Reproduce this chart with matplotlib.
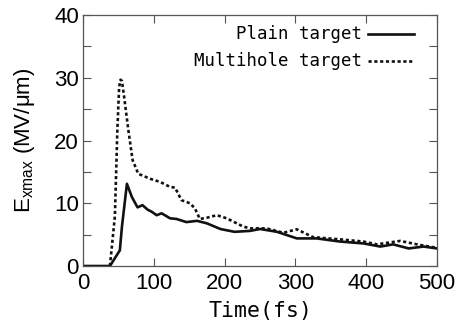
import matplotlib
matplotlib.use("Agg")
import matplotlib.pyplot as plt
from matplotlib.ticker import MultipleLocator

plt.rcParams['mathtext.fontset'] = 'custom'
plt.rcParams['mathtext.rm'] = 'Liberation Sans'
plt.rcParams['mathtext.it'] = 'Liberation Sans'

# Plain target (solid)
plain_t = [0, 38, 52, 55, 62, 69, 77, 84, 91, 97, 104, 111, 123, 132, 146, 161,
           175, 194, 214, 236, 250, 274, 302, 330, 363, 396, 420, 438, 460, 481, 500]
plain_v = [0, 0, 2.5, 6.3, 13.1, 11.0, 9.35, 9.7, 9.0, 8.65, 8.1, 8.4, 7.6, 7.5, 7.0, 7.2,
           6.8, 5.9, 5.45, 5.6, 5.9, 5.45, 4.4, 4.4, 3.9, 3.6, 3.1, 3.45, 2.8, 3.1, 2.8]

# Multihole target (dotted)
multi_t = [38, 45, 48.5, 51, 53, 55, 58, 64, 70, 78, 95, 109, 123, 130, 139, 151, 158,
           165, 175, 189, 203, 226, 236, 259, 283, 302, 325, 363, 396, 415, 448, 476, 500]
multi_v = [0, 7.9, 21.7, 28.5, 29.7, 29.5, 27.0, 21.7, 16.9, 14.7, 13.9, 13.4, 12.6, 12.5, 10.5, 10.0, 9.2,
           7.5, 7.7, 8.1, 7.6, 6.3, 6.0, 6.0, 5.3, 5.85, 4.6, 4.25, 3.9, 3.45, 4.0, 3.35, 2.9]

x_ticks = [0, 100, 200, 300, 400, 500]
y_ticks = [0, 10, 20, 30, 40]

fig = plt.figure(figsize=(4.68, 3.28), dpi=100)
ax = fig.add_axes([0.1774, 0.189, 0.7564, 0.765])

ax.plot(plain_t, plain_v, color='#111111', lw=1.9, ls='-')
ax.plot(multi_t, multi_v, color='#111111', lw=1.9, ls=(0, (1.2, 1.0)))

ax.set_xlim(0, 500)
ax.set_ylim(0, 40)
ax.set_xticks(x_ticks)
ax.set_yticks(y_ticks)
ax.yaxis.set_minor_locator(MultipleLocator(5))
ax.tick_params(which='both', direction='in', top=True, right=True,
               length=6, width=0.8, color='#555555')
ax.tick_params(axis='x', which='major', labelsize=16, pad=5)
ax.tick_params(axis='y', which='major', labelsize=16, pad=3)
for lab in ax.get_xticklabels() + ax.get_yticklabels():
    lab.set_fontfamily('Liberation Sans')

for s in ax.spines.values():
    s.set_color('#555555')
    s.set_linewidth(0.9)

ax.set_xlabel('Time(fs)', fontfamily='DejaVu Sans Mono', fontsize=15.5, labelpad=5)
ax.set_ylabel(r'E$_{\mathrm{xmax}}$ (MV/μm)', fontfamily='Liberation Sans', fontsize=16, labelpad=12)

# legend (text right-aligned, line sample to its right)
leg_font = dict(fontfamily='DejaVu Sans Mono', fontsize=12.5, ha='right', va='center',
                transform=ax.transAxes)
ax.text(0.787, 0.925, 'Plain target', **leg_font)
ax.text(0.787, 0.818, 'Multihole target', **leg_font)
ax.plot([0.805, 0.935], [0.925, 0.925], transform=ax.transAxes, color='#111111', lw=1.9)
ax.plot([0.805, 0.935], [0.818, 0.818], transform=ax.transAxes, color='#111111', lw=1.9,
        ls=(0, (1.2, 1.0)))

fig.savefig('out.png', dpi=100)
